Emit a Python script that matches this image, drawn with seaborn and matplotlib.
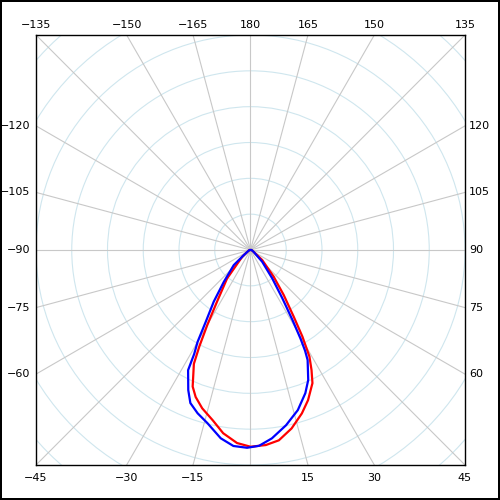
import numpy as np
import pandas as pd
import seaborn as sns
import matplotlib.pyplot as plt
from matplotlib.patches import Circle

# angle 0 points down, positive angles go to the right side
red_angles = [-180, -90, -60, -51, -39.5, -33, -30, -28, -26.5, -23, -20.5, -17, -12.5, -8.5, -4, 0,
              4.5, 8.5, 13, 17.5, 21, 25, 27, 29, 31, 33, 36.5, 41, 49.5, 60, 90, 180]
red_values = [0, 0.03, 0.1, 0.30, 1.03, 1.72, 2.42, 3.05, 3.55, 4.14, 4.38, 4.62, 4.87, 5.17, 5.40, 5.49,
              5.46, 5.37, 5.11, 4.78, 4.49, 4.10, 3.76, 3.40, 2.82, 2.22, 1.56, 0.99, 0.43, 0.1, 0.03, 0]

blue_angles = [-180, -90, -60, -53, -48, -40, -35.5, -32, -30, -28.5, -27.5, -24, -21.5, -18, -14, -9, -5, -1,
               2.5, 6.5, 11.5, 16.5, 21, 24, 27.5, 28.5, 29.5, 31, 33.5, 37.5, 45, 60, 90, 180]
blue_values = [0, 0.03, 0.1, 0.23, 0.63, 1.16, 1.77, 2.36, 2.96, 3.3, 3.78, 4.28, 4.59, 4.79, 4.98, 5.32, 5.49, 5.52,
               5.47, 5.29, 4.99, 4.66, 4.28, 3.97, 3.46, 3.2, 2.84, 2.28, 1.61, 1.0, 0.46, 0.1, 0.03, 0]

ring_values = [1, 2, 3, 4, 5, 6, 7, 8, 9]
ray_angles = list(range(-180, 180, 15))
r_max = 6


def to_xy(angles, values):
    a = np.radians(angles)
    v = np.asarray(values)
    return v * np.sin(a), -v * np.cos(a)


sns.set_style("white")
plt.rcParams['font.family'] = ['DejaVu Sans']

fig = plt.figure(figsize=(5, 5), dpi=100, edgecolor='black', linewidth=1.5)
ax = fig.add_axes([0.072, 0.07, 0.858, 0.86])

# grid: light blue rings and grey rays
for r in ring_values:
    ax.add_patch(Circle((0, 0), r, fill=False, edgecolor='#cfe6ee', linewidth=0.8, zorder=1))
for a in ray_angles:
    x, y = to_xy([a], [10])
    ax.plot([0, x[0]], [0, y[0]], color='#c8c8c8', linewidth=0.8, zorder=2)

# angle labels on the frame (no label for 0)
for a in ray_angles:
    if a == 0:
        continue
    s, c = np.sin(np.radians(a)), -np.cos(np.radians(a))
    txt = '180' if a == -180 else str(a).replace('-', '\u2212')
    kw = dict(fontsize=8, color='black', va='center')
    if abs(a) <= 45:
        ax.text(r_max * s / abs(c), -6.36, txt, ha='center', **kw)
    elif abs(a) >= 135:
        ax.text(r_max * s / abs(c), 6.28, txt, ha='center', **kw)
    elif a > 0:
        ax.text(6.11, r_max * c / abs(s), txt, ha='left', **kw)
    else:
        ax.text(-6.17, r_max * c / abs(s), txt, ha='right', **kw)

rx, ry = to_xy(red_angles, red_values)
bx, by = to_xy(blue_angles, blue_values)
df_red = pd.DataFrame({"x": rx, "y": ry})
df_blue = pd.DataFrame({"x": bx, "y": by})

sns.lineplot(data=df_red, x="x", y="y", sort=False, estimator=None, color='red', linewidth=1.6, ax=ax, zorder=3)
sns.lineplot(data=df_blue, x="x", y="y", sort=False, estimator=None, color='blue', linewidth=1.6, ax=ax, zorder=4)

ax.set_xlim(-r_max, r_max)
ax.set_ylim(-r_max, r_max)
ax.set_xticks([])
ax.set_yticks([])
ax.set_xlabel("")
ax.set_ylabel("")
for sp in ax.spines.values():
    sp.set_color('black')
    sp.set_linewidth(1.0)

fig.savefig("out.png", dpi=100)
